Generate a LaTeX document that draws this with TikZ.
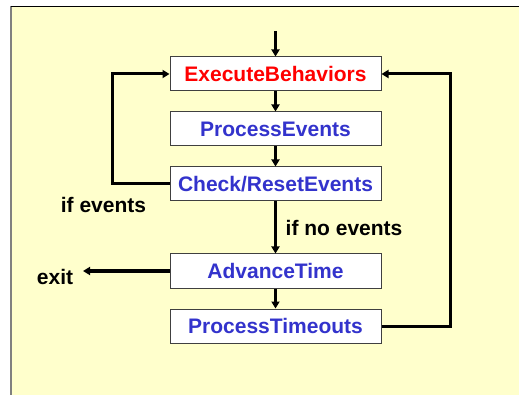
\documentclass[tikz,border=0pt]{standalone}
\usepackage{fontspec}
\setmainfont{Liberation Sans}
\usetikzlibrary{arrows.meta}
\definecolor{bgyel}{HTML}{FFFFCC}
\definecolor{stepblue}{HTML}{3333CC}
\definecolor{stepred}{HTML}{FF0000}
\definecolor{edgegray}{HTML}{404040}
\definecolor{framegray}{HTML}{808080}
\tikzset{
  stepbox/.style={draw=edgegray, line width=1pt, fill=white, minimum width=211pt, minimum height=34pt,
    inner sep=0pt, font=\fontsize{21}{24}\selectfont\bfseries, text=stepblue},
  flow/.style={line width=2.4pt, -{Triangle[length=7pt,width=8pt]}},
  loopline/.style={line width=3pt, -{Triangle[length=7pt,width=8pt]}},
  lbl/.style={font=\fontsize{21}{24}\selectfont\bfseries, inner sep=0pt}
}
\begin{document}
\begin{tikzpicture}[x=1pt,y=-1pt]
\useasboundingbox (0,0) rectangle (519,395);
\fill[white] (0,0) rectangle (519,395);
\fill[bgyel] (11,6) rectangle (519,395);
\draw[framegray, line width=2pt] (11,6) -- (11,395);
\draw[black, line width=1pt] (11,6.5) -- (519,6.5);

\node[stepbox, text=stepred] (eb) at (275.5,74) {ExecuteBehaviors};
\node[stepbox] (pe) at (275.5,129) {ProcessEvents};
\node[stepbox] (cr) at (275.5,184) {Check/ResetEvents};
\node[stepbox] (at) at (275.5,271) {AdvanceTime};
\node[stepbox] (pt) at (275.5,326) {ProcessTimeouts};

\coordinate (start) at (275.5,31);
\coordinate (exitpt) at (83,271);
\coordinate (lft) at (112,0);
\coordinate (rgt) at (450,0);

\draw[flow] (start) -- (eb.north);
\draw[flow] (eb) -- (pe);
\draw[flow] (pe) -- (cr);
\draw[flow] (cr) -- node[lbl, right=9pt, anchor=west] {if no events} (at);
\draw[flow] (at) -- (pt);
\draw[loopline] (cr.west) -| (lft |- eb.west) -- (eb.west);
\draw[loopline] (pt.east) -| (rgt |- eb.east) -- (eb.east);
\draw[loopline] (at.west) -- (exitpt);

\node[lbl] (ifev) at (103.5,205) {if events};
\node[lbl] (exitl) at (55,277) {exit};
\end{tikzpicture}
\end{document}
